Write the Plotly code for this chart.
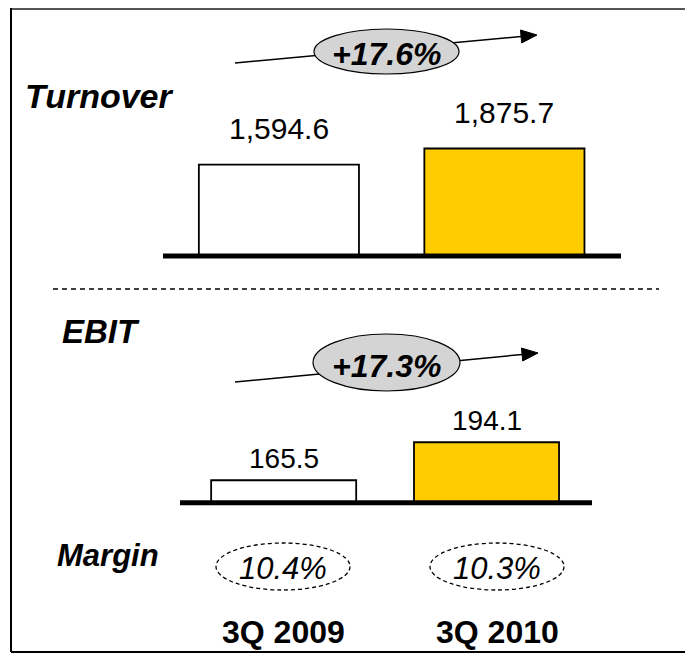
import plotly.graph_objects as go

# data
periods = ["3Q 2009", "3Q 2010"]
turnover = [1594.6, 1875.7]
ebit = [165.5, 194.1]
margin = [10.4, 10.3]
growth = ["+17.6%", "+17.3%"]
bar_colors = ["#FFFFFF", "#FFCC00"]

# page has an 8px body margin, so the figure is a bit smaller than the window
OFF = 8
W, H = 693 - OFF, 653 - OFF
FONT = "Arial, Liberation Sans, sans-serif"


def px(x):
    return (x - OFF) / W


def py(y):
    return 1 - (y - OFF) / H


def label(x, y, text, size):
    return dict(x=px(x), y=py(y), xref="paper", yref="paper", text=text,
                showarrow=False, xanchor="center", yanchor="middle",
                font=dict(family=FONT, size=size, color="black"))


fig = go.Figure()

fig.add_trace(go.Bar(
    x=periods, y=turnover, width=0.71,
    marker=dict(color=bar_colors, line=dict(color="black", width=1.8)),
    xaxis="x", yaxis="y", hoverinfo="x+y",
))
fig.add_trace(go.Bar(
    x=periods, y=ebit, width=0.715,
    marker=dict(color=bar_colors, line=dict(color="black", width=1.8)),
    xaxis="x2", yaxis="y2", hoverinfo="x+y",
))

ann = []
# value labels above bars
for p, v in zip(periods, turnover):
    ann.append(dict(x=p, y=v, xref="x", yref="y", text=f"{v:,.1f}",
                    showarrow=False, xanchor="center", yanchor="middle", yshift=36,
                    font=dict(family=FONT, size=30, color="black")))
for p, v in zip(periods, ebit):
    ann.append(dict(x=p, y=v, xref="x2", yref="y2", text=f"{v:,.1f}",
                    showarrow=False, xanchor="center", yanchor="middle", yshift=22,
                    font=dict(family=FONT, size=28, color="black")))

# section titles
ann.append(label(99, 96, "<b><i>Turnover</i></b>", 34))
ann.append(label(101, 331, "<b><i>EBIT</i></b>", 33))
ann.append(label(108, 555, "<b><i>Margin</i></b>", 31))

shapes = []
# frame (top edge sits just inside the page margin)
shapes.append(dict(type="line", xref="paper", yref="paper", x0=px(11), x1=1, y0=py(9), y1=py(9),
                   line=dict(color="#555555", width=2)))
shapes.append(dict(type="line", xref="paper", yref="paper", x0=px(11), x1=px(11), y0=py(652), y1=py(8),
                   line=dict(color="black", width=2)))
shapes.append(dict(type="line", xref="paper", yref="paper", x0=px(11), x1=1, y0=py(652), y1=py(652),
                   line=dict(color="black", width=2)))
# separator
shapes.append(dict(type="line", xref="paper", yref="paper", x0=px(53), x1=px(659), y0=py(289), y1=py(289),
                   line=dict(color="black", width=1.5, dash="5px,4px")))
# baselines
for xr, yr in [("x domain", "y domain"), ("x2 domain", "y2 domain")]:
    shapes.append(dict(type="line", xref=xr, yref=yr, x0=0, x1=1, y0=0, y1=0,
                       line=dict(color="black", width=5)))

# growth arrows with ellipse badges
arrows = [((235, 63), (537, 35), (314, 459, 29, 74)),
          ((235, 382), (538, 353), (313, 460, 334, 391))]
for g, (start, tip, ell) in zip(growth, arrows):
    dx, dy = tip[0] - start[0], tip[1] - start[1]
    L = (dx ** 2 + dy ** 2) ** 0.5
    ux, uy = dx / L, dy / L
    nx, ny = -uy, ux
    hl, hw = 16, 6.5
    bx, by = tip[0] - hl * ux, tip[1] - hl * uy
    shapes.append(dict(type="line", xref="paper", yref="paper",
                       x0=px(start[0]), y0=py(start[1]), x1=px(bx), y1=py(by),
                       line=dict(color="black", width=1.5)))
    p1 = (bx + hw * nx, by + hw * ny)
    p2 = (bx - hw * nx, by - hw * ny)
    shapes.append(dict(type="path", xref="paper", yref="paper",
                       path=f"M {px(tip[0])},{py(tip[1])} L {px(p1[0])},{py(p1[1])} L {px(p2[0])},{py(p2[1])} Z",
                       fillcolor="black", line=dict(color="black", width=1)))
    x0, x1, y0, y1 = ell
    shapes.append(dict(type="circle", xref="paper", yref="paper",
                       x0=px(x0), x1=px(x1), y0=py(y1), y1=py(y0),
                       fillcolor="#D4D4D4", line=dict(color="black", width=1.2)))
    ann.append(label((x0 + x1) / 2, (y0 + y1) / 2 + 3, f"<b><i>{g}</i></b>", 32))

# margins and period labels
centers = [283, 497]
for cx, m, p in zip(centers, margin, periods):
    shapes.append(dict(type="circle", xref="paper", yref="paper",
                       x0=px(cx - 67), x1=px(cx + 67), y0=py(590), y1=py(543),
                       line=dict(color="black", width=1.3, dash="4px,3px")))
    ann.append(label(cx, 568, f"<i>{m:.1f}%</i>", 31))
    ann.append(label(cx, 632, f"<b>{p}</b>", 32))

axis_off = dict(visible=False, showgrid=False, zeroline=False, fixedrange=True)
fig.update_layout(
    width=W, height=H,
    margin=dict(l=0, r=0, t=0, b=0),
    paper_bgcolor="white", plot_bgcolor="rgba(0,0,0,0)",
    showlegend=False,
    xaxis=dict(axis_off, domain=[px(163), px(621)], range=[-0.514, 1.517], anchor="y"),
    yaxis=dict(axis_off, domain=[py(256), py(100)], range=[0, 2722], anchor="x"),
    xaxis2=dict(axis_off, domain=[px(180), px(592)], range=[-0.511, 1.520], anchor="y2"),
    yaxis2=dict(axis_off, domain=[py(502.7), py(400)], range=[148.6, 225.9], anchor="x2"),
    shapes=shapes,
    annotations=ann,
)

fig.write_html("out.html")
